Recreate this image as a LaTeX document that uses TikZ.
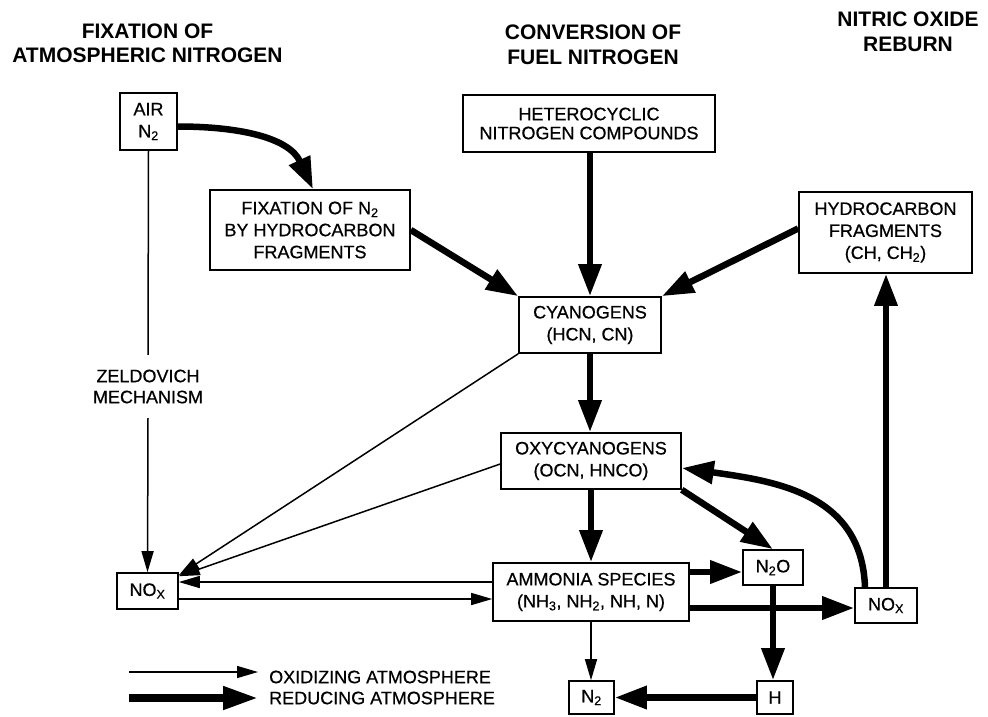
\documentclass[tikz,border=0pt]{standalone}
\usepackage{fontspec}
\setmainfont{Liberation Sans}
\newfontfamily\bxfont{Liberation Sans}[FakeBold=0.6]
\usetikzlibrary{arrows.meta,calc}
\begin{document}
\begin{tikzpicture}[x=1pt,y=1pt,
  box/.style={draw,line width=1.6pt,align=center,inner sep=0pt,font=\bxfont\fontsize{18}{22}\selectfont},
  lbl/.style={align=center,inner sep=0pt,font=\bxfont\fontsize{18}{21}\selectfont},
  ttl/.style={align=center,inner sep=0pt,font=\fontsize{21}{24.5}\selectfont\bfseries},
  thinline/.style={line width=1.5pt},
  thinarr/.style={line width=1.5pt,-{Triangle[length=21pt,width=12pt]}},
  thickarr/.style={line width=6.5pt,-{Triangle[length=32pt,width=22pt]}},
]
\useasboundingbox (0,0) rectangle (988,-716);

% titles
\node[ttl] (t1) at (147.5,-43.5) {FIXATION OF\\ATMOSPHERIC NITROGEN};
\node[ttl] (t2) at (593,-45) {CONVERSION OF\\FUEL NITROGEN};
\node[ttl] (t3) at (908,-32) {NITRIC OXIDE\\REBURN};

% boxes
\node[box,minimum width=57pt,minimum height=57pt] (air) at (148.5,-121.5) {AIR\\N\textsubscript{2}};
\node[box,minimum width=200pt,minimum height=80pt] (fix) at (310,-230) {FIXATION OF N\textsubscript{2}\\BY HYDROCARBON\\FRAGMENTS};
\node[box,minimum width=252pt,minimum height=57pt,font=\bxfont\fontsize{18}{19}\selectfont] (het) at (589,-123.5) {HETEROCYCLIC\\NITROGEN COMPOUNDS};
\node[box,minimum width=173pt,minimum height=81pt] (hc) at (885.5,-232.5) {HYDROCARBON\\FRAGMENTS\\(CH, CH\textsubscript{2})};
\node[box,minimum width=142pt,minimum height=56pt] (cyan) at (590,-325) {CYANOGENS\\(HCN, CN)};
\node[box,minimum width=180pt,minimum height=56pt] (oxy) at (591,-461) {OXYCYANOGENS\\(OCN, HNCO)};
\node[box,minimum width=196pt,minimum height=58pt] (amm) at (591,-592) {AMMONIA SPECIES\\(NH\textsubscript{3}, NH\textsubscript{2}, NH, N)};
\node[box,minimum width=60pt,minimum height=35pt] (n2o) at (773,-567.5) {N\textsubscript{2}O};
\node[box,minimum width=62pt,minimum height=35pt] (noxr) at (886,-605.5) {NO\textsubscript{X}};
\node[box,minimum width=61pt,minimum height=36pt] (noxl) at (147.5,-591) {NO\textsubscript{X}};
\node[box,minimum width=45pt,minimum height=33pt] (n2) at (591.5,-697.5) {N\textsubscript{2}};
\node[box,minimum width=36pt,minimum height=33pt] (h) at (775,-697.5) {H};

\node[lbl,minimum height=63pt] (zel) at (148,-386.5) {ZELDOVICH\\MECHANISM};

% thick connectors
\draw[thickarr] ([yshift=-5pt]air.east) to[out=0,in=115] ([xshift=3pt]fix.north);
\draw[thickarr] (fix.east) -- (cyan.north west);
\draw[thickarr] (cyan.north |- het.south) -- (cyan.north);
\draw[thickarr] ([yshift=4pt]hc.west) -- (cyan.north east);
\draw[thickarr] (cyan.south) -- (cyan.south |- oxy.north);
\draw[thickarr] (oxy.south) -- (oxy.south |- amm.north);
\draw[thickarr] (oxy.south east) -- (n2o.north);
\draw[thickarr] ([yshift=20pt]amm.east) -- ([yshift=20pt]amm.east -| n2o.west);
\draw[thickarr] ([yshift=-16pt]amm.east) -- ([yshift=-16pt]amm.east -| noxr.west);
\draw[thickarr] (n2o.south) -- (n2o.south |- h.north);
\draw[thickarr] (h.west) -- (h.west -| n2.east);
\draw[thickarr] (noxr.north) -- (noxr.north |- hc.south);
\draw[thickarr] ([xshift=-21pt]noxr.north) to[out=92,in=-8,looseness=1.1] ([yshift=-7pt]oxy.east);

% thin connectors
\draw[thinline] (air.south) -- (zel.north);
\draw[thinarr] (zel.south) -- (noxl.north);
\draw[thinarr] (cyan.south west) -- ([yshift=-3pt]noxl.north east);
\draw[thinarr] ([yshift=-3pt]oxy.west) -- ([yshift=-4pt]noxl.north east);
\draw[thinarr] ([yshift=10pt]amm.west) -- ([yshift=10pt]amm.west -| noxl.east);
\draw[thinarr] ([yshift=-8pt]noxl.east) -- ([yshift=-8pt]noxl.east -| amm.west);
\draw[thinarr] (amm.south) -- (amm.south |- n2.north);

% legend
\coordinate (l1a) at (129,-672);
\coordinate (l1b) at (258,-672);
\coordinate (l2a) at (129,-698);
\coordinate (l2b) at (258,-698);
\draw[thinarr] (l1a) -- (l1b);
\draw[line width=7.5pt,-{Triangle[length=35pt,width=22pt]}] (l2a) -- (l2b);
\node[lbl,anchor=west] (lg1) at (269,-677) {OXIDIZING ATMOSPHERE};
\node[lbl,anchor=west] (lg2) at (269,-698) {REDUCING ATMOSPHERE};
\end{tikzpicture}
\end{document}
